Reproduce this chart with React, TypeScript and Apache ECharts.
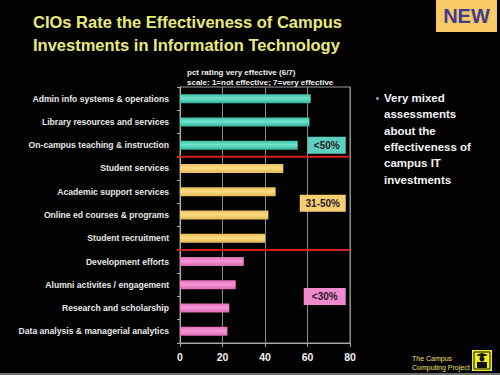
import React, { useEffect, useRef } from "react";
import * as echarts from "echarts";

const categories = [
  "Admin info systems & operations",
  "Library resources and services",
  "On-campus teaching & instruction",
  "Student services",
  "Academic support services",
  "Online ed courses & programs",
  "Student recruitment",
  "Development efforts",
  "Alumni activites / engagement",
  "Research and scholarship",
  "Data analysis & managerial analytics",
];
const values = [61.5, 60.9, 55.4, 48.6, 45.0, 41.6, 40.0, 30.0, 26.2, 23.2, 22.3];
const groups = ["high", "high", "high", "mid", "mid", "mid", "mid", "low", "low", "low", "low"];
const xTicks = [0, 20, 40, 60, 80];
const groupLabels = ["<50%", "31-50%", "<30%"];

const colors: Record<string, [string, string, string]> = {
  high: ["#3cbfa6", "#6fe3cc", "#35b49b"],
  mid: ["#e8bf5c", "#fcdb82", "#e3b857"],
  low: ["#e070b8", "#f796d4", "#d86ab0"],
};
const boxColors = ["#5ccfbf", "#f6cf72", "#ef8acb"];

const FONT2 = "'Liberation Sans', Arial, sans-serif";

export default function App() {
  const ref = useRef<HTMLDivElement>(null);
  useEffect(() => {
    document.body.style.margin = "0";
    const chart = echarts.init(ref.current!, undefined, { renderer: "svg" });
    const grad = (g: string) =>
      new echarts.graphic.LinearGradient(0, 0, 0, 1, [
        { offset: 0, color: colors[g][0] },
        { offset: 0.45, color: colors[g][1] },
        { offset: 1, color: colors[g][2] },
      ]);
    chart.setOption({
      animation: false,
      backgroundColor: "#020202",
      grid: {
        left: 180,
        right: 150,
        top: 87,
        bottom: 32,
        containLabel: false,
        outerBoundsMode: "none",
        show: true,
        borderColor: "#9a9a9a",
        borderWidth: 1,
        backgroundColor: "transparent",
      },
      xAxis: {
        type: "value",
        min: xTicks[0],
        max: xTicks[xTicks.length - 1],
        interval: 20,
        axisLine: { show: true, lineStyle: { color: "#aaaaaa" } },
        axisTick: { show: true, length: 4, lineStyle: { color: "#aaaaaa" } },
        splitLine: { show: true, lineStyle: { color: "#8a8a8a", width: 1 } },
        axisLabel: { color: "#f2f2f2", fontWeight: "bold", fontSize: 10.5, margin: 8, fontFamily: FONT2 },
      },
      yAxis: {
        type: "category",
        inverse: true,
        data: categories,
        axisLine: { show: true, lineStyle: { color: "#b0b0b0" } },
        axisTick: { show: true, length: 3, lineStyle: { color: "#aaaaaa" } },
        axisLabel: { color: "#e8e8e8", fontWeight: "bold", fontSize: 8.6, margin: 11, fontFamily: FONT2 },
      },
      series: [
        {
          type: "bar",
          barWidth: 9,
          data: values.map((v, i) => ({ value: v, itemStyle: { color: grad(groups[i]) } })),
        },
      ],
    });

    const yOf = (i: number) => chart.convertToPixel({ yAxisIndex: 0 }, i) as number;
    const xOf = (v: number) => chart.convertToPixel({ xAxisIndex: 0 }, v) as number;
    const sep1 = (yOf(2) + yOf(3)) / 2;
    const sep2 = (yOf(6) + yOf(7)) / 2;
    const boxRight = xOf(78);
    const boxes = [
      { label: groupLabels[0], cy: yOf(2), w: 38, color: boxColors[0] },
      { label: groupLabels[1], cy: (yOf(4) + yOf(5)) / 2, w: 46, color: boxColors[1] },
      { label: groupLabels[2], cy: (yOf(8) + yOf(9)) / 2, w: 42, color: boxColors[2] },
    ];
    const x0 = xOf(0);
    const x80 = xOf(80);

    const bulletLines = ["Very mixed", "assessments", "about the", "effectiveness of", "campus IT", "investments"];

    chart.setOption({
      graphic: [
        {
          type: "text",
          left: 33,
          top: 10,
          style: {
            text: "CIOs Rate the Effectiveness of Campus\nInvestments in Information Technology",
            fill: "#e9ea7c",
            font: `bold 16.5px ${FONT2}`,
            lineHeight: 23,
          },
        },
        { type: "rect", shape: { x: 436, y: 0, width: 61, height: 32 }, style: { fill: "#f7c967" } },
        {
          type: "text",
          x: 466.5,
          y: 16,
          style: { text: "NEW", fill: "#3f3c8c", font: `bold 20px ${FONT2}`, align: "center", verticalAlign: "middle" },
        },
        {
          type: "text",
          x: 187,
          y: 72,
          style: { text: "pct rating very effective (6/7)", fill: "#f0f0f0", font: `bold 8px ${FONT2}`, verticalAlign: "middle" },
        },
        {
          type: "text",
          x: 187,
          y: 82,
          style: { text: "scale: 1=not effective; 7=very effective", fill: "#f0f0f0", font: `bold 8px ${FONT2}`, verticalAlign: "middle" },
        },
        { type: "line", shape: { x1: x0 - 3, y1: sep1, x2: x80, y2: sep1 }, style: { stroke: "#d42020", lineWidth: 2 }, z: 10 },
        { type: "line", shape: { x1: x0 - 3, y1: sep2, x2: x80, y2: sep2 }, style: { stroke: "#d42020", lineWidth: 2 }, z: 10 },
        ...boxes.flatMap((b) => [
          {
            type: "rect",
            shape: { x: boxRight - b.w, y: b.cy - 8.5, width: b.w, height: 17 },
            style: { fill: b.color },
            z: 10,
          },
          {
            type: "text",
            x: boxRight - b.w / 2,
            y: b.cy,
            style: { text: b.label, fill: "#2a1a2c", font: `bold 10px ${FONT2}`, align: "center", verticalAlign: "middle" },
            z: 11,
          },
        ]),
        { type: "circle", shape: { cx: 377.5, cy: 98.5, r: 1.5 }, style: { fill: "#7fa6d6" } },
        {
          type: "text",
          x: 384,
          y: 90,
          style: {
            text: bulletLines.join("\n"),
            fill: "#f4f4f4",
            font: `bold 11.5px ${FONT2}`,
            lineHeight: 16.3,
          },
        },
        {
          type: "text",
          x: 412,
          y: 354,
          style: { text: "The Campus\nComputing Project", fill: "#e6e070", font: `7px ${FONT2}`, lineHeight: 9 },
        },
        { type: "rect", shape: { x: 472, y: 350, width: 20, height: 21 }, style: { fill: "#f2ee22" } },
        { type: "rect", shape: { x: 474, y: 352, width: 16, height: 17 }, style: { fill: "none", stroke: "#111", lineWidth: 1 } },
        { type: "polygon", shape: { points: [[476, 355], [482, 353], [488, 355], [482, 357]] }, style: { fill: "#111" } },
        { type: "circle", shape: { cx: 482, cy: 359, r: 2.5 }, style: { fill: "#111" } },
        { type: "rect", shape: { x: 477, y: 362, width: 10, height: 6 }, style: { fill: "#111" } },
        { type: "rect", shape: { x: 0, y: 373, width: 500, height: 2 }, style: { fill: "#6e6e6e" } },
      ],
    });
    return () => chart.dispose();
  }, []);
  return <div ref={ref} style={{ position: "fixed", left: 0, top: 0, width: 500, height: 375 }} />;
}
